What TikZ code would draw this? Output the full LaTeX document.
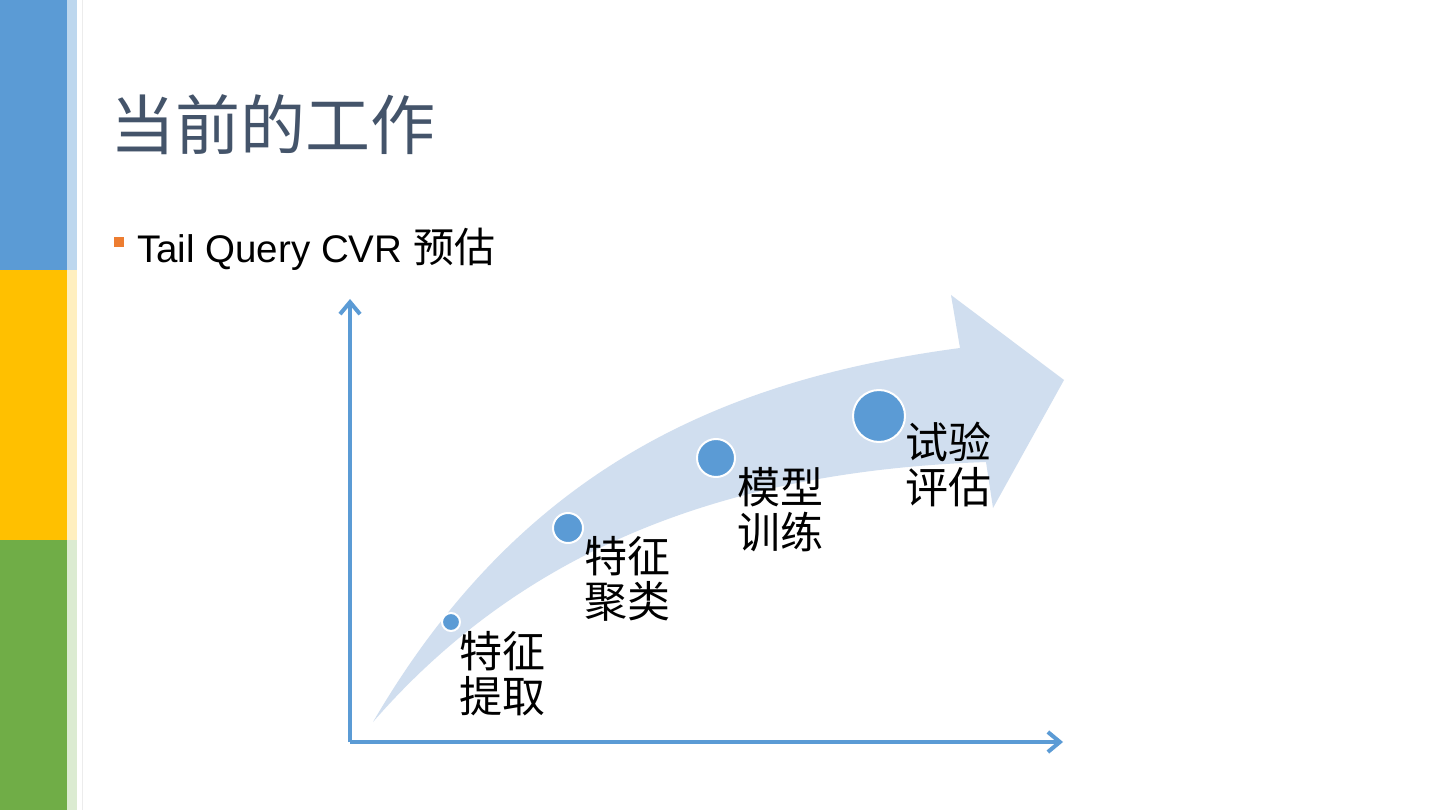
\documentclass[tikz,border=0pt]{standalone}
\usepackage{fontspec}
\usepackage{xcolor}
\usepackage{tikz}
\usetikzlibrary{arrows.meta, positioning}
\setmainfont{Liberation Sans}
\newfontfamily\cjk{Noto Sans CJK SC}
\definecolor{barblue}{HTML}{5B9BD5}
\definecolor{baryellow}{HTML}{FFC000}
\definecolor{bargreen}{HTML}{70AD47}
\definecolor{titlegrey}{HTML}{44546A}
\definecolor{bulletorange}{HTML}{ED7D31}
\definecolor{axisblue}{HTML}{5B9BD5}
\definecolor{arrowpale}{HTML}{D0DEEF}

\begin{document}
\begin{tikzpicture}[x=1pt, y=-1pt,
  axis/.style={axisblue, line width=4pt, -{Straight Barb[length=12pt, width=20pt, line width=4pt]}},
  dot/.style={circle, fill=barblue, draw=white, line width=2pt, inner sep=0pt},
  lbl/.style={anchor=north west, inner sep=0pt, align=left, font=\cjk\fontsize{43}{45}\selectfont}]
  \useasboundingbox (0,0) rectangle (1440,810);
  \fill[white] (0,0) rectangle (1440,810);
  % side bars
  \fill[barblue]   (0,0)   rectangle (67,270);
  \fill[baryellow] (0,270) rectangle (67,540);
  \fill[bargreen]  (0,540) rectangle (67,810);
  \fill[barblue!40]   (67,0)   rectangle (77,270);
  \fill[baryellow!25] (67,270) rectangle (77,540);
  \fill[bargreen!25]  (67,540) rectangle (77,810);
  \draw[gray!15, line width=1pt] (82,0) -- (82,810);
  % title and bullet
  \node[anchor=west, inner sep=0pt, text=titlegrey, font=\cjk\fontsize{65}{70}\selectfont] (title) at (110,125) {当前的工作};
  \fill[bulletorange] (114,237) rectangle (124,247);
  \node[anchor=base west, inner sep=0pt, font=\fontsize{38.5}{40}\selectfont] (item) at (137,263) {Tail Query CVR {\cjk\fontsize{41}{44}\selectfont 预估}};
  % big curved arrow
  \fill[arrowpale] (373,722) .. controls (520,470) and (720,380) .. (960,348)
    -- (951,295) -- (1064,380) -- (993,508) -- (986,462)
    .. controls (760,470) and (540,530) .. (373,722) -- cycle;
  % axes
  \coordinate (origin) at (350,742);
  \coordinate (ytop) at (350,299);
  \coordinate (xend) at (1063,742);
  \draw[axis] (origin) -- (ytop);
  \draw[axis] (origin) -- (xend);
  % steps
  \node[dot, minimum size=18pt] (dot1) at (451,622) {};
  \node[dot, minimum size=30pt] (dot2) at (568,528) {};
  \node[dot, minimum size=38pt] (dot3) at (716,458) {};
  \node[dot, minimum size=52pt] (dot4) at (879,416) {};
  \node[lbl] (lab1) at (459,631) {特征\\提取};
  \node[lbl] (lab2) at (584,536) {特征\\聚类};
  \node[lbl] (lab3) at (737,467) {模型\\训练};
  \node[lbl] (lab4) at (905,422) {试验\\评估};
\end{tikzpicture}
\end{document}
